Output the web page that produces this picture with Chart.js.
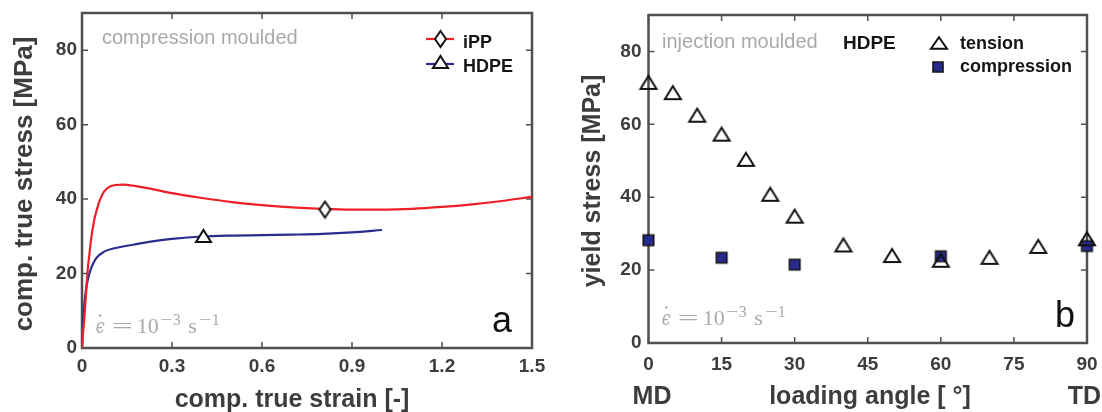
<!DOCTYPE html>
<html><head><meta charset="utf-8">
<script src="https://cdn.jsdelivr.net/npm/chart.js@4.4.1/dist/chart.umd.min.js"></script>
<style>
html,body{margin:0;padding:0;background:#fff;}
#wrap{position:relative;width:1102px;height:412px;overflow:hidden;background:#fff;}
#cA{position:absolute;left:0;top:0;}
#cB{position:absolute;left:560px;top:0;}
</style></head><body>
<div id="wrap"><canvas id="cA" width="560" height="412"></canvas><canvas id="cB" width="542" height="412"></canvas></div>
<script>
// ---------- data (panel a) ----------
const strainIPP = [0, 0.004, 0.008, 0.013, 0.019, 0.025, 0.03, 0.041, 0.05, 0.058, 0.074, 0.097, 0.135, 0.18, 0.24, 0.3, 0.4, 0.5, 0.6, 0.7, 0.8, 0.9, 1.0, 1.1, 1.2, 1.3, 1.4, 1.5];
const stressIPP = [0, 4.5, 8.3, 14, 21, 25.5, 29, 34.5, 37.3, 39.4, 42.1, 43.5, 43.9, 43.5, 42.6, 41.6, 40.3, 39.2, 38.4, 37.8, 37.4, 37.2, 37.2, 37.4, 37.9, 38.6, 39.5, 40.6];
const strainHDPE = [0, 0.002, 0.005, 0.008, 0.013, 0.019, 0.03, 0.047, 0.074, 0.108, 0.174, 0.24, 0.3, 0.4, 0.5, 0.6, 0.7, 0.8, 0.9, 1.0];
const stressHDPE = [0, 4.7, 8.5, 12, 15.5, 18.2, 21.4, 24.1, 25.9, 26.8, 27.8, 28.7, 29.3, 29.95, 30.2, 30.3, 30.45, 30.65, 31.05, 31.7];
const markerIPP = [0.81, 37.2];
const markerHDPE = [0.405, 30.1];
const strainTicks = [0, 0.3, 0.6, 0.9, 1.2, 1.5];
const stressTicks = [0, 20, 40, 60, 80];
// ---------- data (panel b) ----------
const angleTension = [0, 5, 10, 15, 20, 25, 30, 40, 50, 60, 70, 80, 90];
const yieldTension = [71.5, 68.7, 62.5, 57.3, 50.4, 40.8, 34.8, 26.9, 24.0, 22.7, 23.5, 26.5, 28.6];
const angleCompression = [0, 15, 30, 60, 90];
const yieldCompression = [28.2, 23.4, 21.5, 23.8, 26.6];
const angleTicks = [0, 15, 30, 45, 60, 75, 90];
const yieldTicks = [0, 20, 40, 60, 80];

// ---------- styles ----------
const SANS = '"Liberation Sans", Arial, Helvetica, sans-serif';
const SERIF = '"Liberation Serif", "DejaVu Serif", serif';
const FRAME = '#505050';
const TICKC = '#3d3d3d';
const GRAY = '#a9a9a9';
const RED = '#ee1f26';
const BLUE = '#2b2d8e';
const NAVY = '#262a8c';

function marker(shape, w, h, fill, stroke, lw) {
  const c = document.createElement('canvas');
  const pad = Math.ceil(lw) + 2;
  c.width = Math.round(w + 2 * pad); c.height = Math.round(h + 2 * pad);
  const g = c.getContext('2d');
  g.translate(c.width / 2, c.height / 2);
  g.beginPath();
  if (shape === 'diamond') { g.moveTo(0, -h / 2); g.lineTo(w / 2, 0); g.lineTo(0, h / 2); g.lineTo(-w / 2, 0); g.closePath(); }
  else if (shape === 'triangle') { g.moveTo(0, -h / 2); g.lineTo(w / 2, h / 2); g.lineTo(-w / 2, h / 2); g.closePath(); }
  else { g.rect(-w / 2, -h / 2, w, h); }
  if (fill) { g.fillStyle = fill; g.fill(); }
  g.lineWidth = lw; g.strokeStyle = stroke; g.lineJoin = 'miter'; g.stroke();
  return c;
}
const mDiamond = marker('diamond', 11, 16, '#fff', '#111', 2);
const mTriA = marker('triangle', 15, 12, '#fff', '#111', 2);
const mTriB = marker('triangle', 16, 13, null, '#111', 2);
const mSq = marker('square', 10.5, 10.5, NAVY, '#151515', 1.6);
const mTriLegB = marker('triangle', 16, 11.5, null, '#111', 2);
const mSqLeg = marker('square', 10, 10, NAVY, '#151515', 1.6);

function pts(xs, ys) { return xs.map((x, i) => ({ x: x, y: ys[i] })); }

function txt(ctx, s, x, y, font, color, align, rot) {
  ctx.save();
  ctx.font = font; ctx.fillStyle = color; ctx.textAlign = align || 'left'; ctx.textBaseline = 'alphabetic';
  ctx.translate(x, y);
  if (rot) ctx.rotate(rot);
  ctx.fillText(s, 0, 0);
  ctx.restore();
}
function drawImg(ctx, img, x, y) { ctx.drawImage(img, Math.round(x - img.width / 2), Math.round(y - img.height / 2)); }

// strain-rate label: ϵ̇ = 10^-3 s^-1 (math-style, drawn piece by piece)
function drawRate(ctx, x0, base) {
  ctx.save();
  ctx.fillStyle = GRAY; ctx.textAlign = 'left'; ctx.textBaseline = 'alphabetic';
  ctx.save(); ctx.translate(x0, base); ctx.scale(0.8, 1);
  ctx.font = 'italic 20px "DejaVu Serif", serif'; ctx.fillText('\u03F5', 0, 0); ctx.restore();
  ctx.beginPath(); ctx.arc(x0 + 4.5, base - 17.5, 1.3, 0, 2 * Math.PI); ctx.fill();
  ctx.save(); ctx.translate(x0 + 16, base); ctx.scale(1.7, 1);
  ctx.font = '22px ' + SERIF; ctx.fillText('=', 0, 0); ctx.restore();
  ctx.font = '22px ' + SERIF;
  ctx.fillText('10', x0 + 41, base);
  ctx.fillText('s', x0 + 92.5, base);
  ctx.font = '16px ' + SERIF;
  ctx.save(); ctx.translate(x0 + 64.5, base - 8); ctx.scale(1.35, 1); ctx.fillText('\u2212', 0, 0); ctx.restore();
  ctx.fillText('3', x0 + 77, base - 8);
  ctx.save(); ctx.translate(x0 + 103.5, base - 8); ctx.scale(1.35, 1); ctx.fillText('\u2212', 0, 0); ctx.restore();
  ctx.fillText('1', x0 + 116, base - 8);
  ctx.restore();
}

function framePlugin(xt, yt, texts) {
  return {
    id: 'frameAndText',
    beforeDatasetsDraw(chart) {
      const ctx = chart.ctx, a = chart.chartArea, x = chart.scales.x, y = chart.scales.y;
      ctx.save();
      ctx.strokeStyle = FRAME; ctx.lineWidth = 1.5;
      ctx.beginPath();
      xt.forEach(v => { const p = x.getPixelForValue(v); ctx.moveTo(p, a.bottom); ctx.lineTo(p, a.bottom - 6); ctx.moveTo(p, a.top); ctx.lineTo(p, a.top + 6); });
      yt.forEach(v => { const p = y.getPixelForValue(v); ctx.moveTo(a.left, p); ctx.lineTo(a.left + 6, p); ctx.moveTo(a.right, p); ctx.lineTo(a.right - 6, p); });
      ctx.stroke();
      ctx.lineWidth = 2.5;
      ctx.strokeRect(a.left, a.top, a.right - a.left, a.bottom - a.top);
      ctx.restore();
    },
    afterDraw(chart) { texts(chart.ctx, chart); }
  };
}

function axisCfg(min, max, tickVals, fmt, pad, fitFn) {
  return {
    type: 'linear', min: min, max: max,
    afterBuildTicks: s => { s.ticks = tickVals.map(v => ({ value: v })); },
    afterFit: s => { fitFn(s); s.paddingLeft = 0; s.paddingRight = 0; s.paddingTop = 0; s.paddingBottom = 0; },
    grid: { display: false, drawTicks: false },
    border: { display: false },
    ticks: { padding: pad, color: TICKC, font: { family: SANS, size: 19, weight: 'bold' }, callback: fmt, maxRotation: 0, autoSkip: false }
  };
}

// ---------- panel a ----------
new Chart(document.getElementById('cA'), {
  type: 'scatter',
  data: {
    datasets: [
      { data: [{ x: markerIPP[0], y: markerIPP[1] }], pointStyle: mDiamond, pointRadius: 8, clip: false },
      { data: [{ x: markerHDPE[0], y: markerHDPE[1] }], pointStyle: mTriA, pointRadius: 8, clip: false },
      { data: pts(strainIPP, stressIPP), showLine: true, borderColor: RED, borderWidth: 2.2, pointRadius: 0, cubicInterpolationMode: 'monotone' },
      { data: pts(strainHDPE, stressHDPE), showLine: true, borderColor: BLUE, borderWidth: 2.2, pointRadius: 0, cubicInterpolationMode: 'monotone' }
    ]
  },
  options: {
    responsive: false, animation: false, events: [], devicePixelRatio: 1,
    layout: { padding: { left: 0, right: 28, top: 13, bottom: 0 } },
    plugins: { legend: { display: false }, tooltip: { enabled: false } },
    scales: {
      x: axisCfg(0, 1.5, strainTicks, v => v === 0 ? '0' : v.toFixed(1), 7, s => { s.height = 64; }),
      y: axisCfg(0, 90, stressTicks, v => String(v), 5, s => { s.width = 82; })
    }
  },
  plugins: [framePlugin(strainTicks, stressTicks, (ctx, chart) => {
    txt(ctx, 'comp. true stress [MPa]', 31.5, 184, 'bold 26px ' + SANS, TICKC, 'center', -Math.PI / 2);
    txt(ctx, 'comp. true strain [-]', 292, 407, 'bold 25px ' + SANS, TICKC, 'center');
    txt(ctx, 'compression moulded', 102, 44, '20px ' + SANS, GRAY, 'left');
    // legend
    ctx.save(); ctx.lineWidth = 2.2;
    ctx.strokeStyle = RED; ctx.beginPath(); ctx.moveTo(426, 39); ctx.lineTo(454, 39); ctx.stroke();
    ctx.strokeStyle = BLUE; ctx.beginPath(); ctx.moveTo(426, 64); ctx.lineTo(454, 64); ctx.stroke();
    ctx.restore();
    drawImg(ctx, mDiamond, 440, 39);
    drawImg(ctx, mTriA, 440, 62);
    txt(ctx, 'iPP', 463, 48, 'bold 18px ' + SANS, '#151515', 'left');
    txt(ctx, 'HDPE', 463, 71.5, 'bold 18px ' + SANS, '#151515', 'left');
    drawRate(ctx, 95.7, 333);
    txt(ctx, 'a', 512, 332, '36px ' + SANS, '#111', 'right');
  })]
});

// ---------- panel b ----------
new Chart(document.getElementById('cB'), {
  type: 'scatter',
  data: {
    datasets: [
      { data: pts(angleTension, yieldTension), pointStyle: mTriB, pointRadius: 8, clip: false },
      { data: pts(angleCompression, yieldCompression), pointStyle: mSq, pointRadius: 6, clip: false }
    ]
  },
  options: {
    responsive: false, animation: false, events: [], devicePixelRatio: 1,
    layout: { padding: { left: 0, right: 15, top: 15, bottom: 0 } },
    plugins: { legend: { display: false }, tooltip: { enabled: false } },
    scales: {
      x: axisCfg(0, 90, angleTicks, v => String(v), 10, s => { s.height = 69; }),
      y: axisCfg(0, 90, yieldTicks, v => String(v), 7, s => { s.width = 88.5; })
    }
  },
  plugins: [framePlugin(angleTicks, yieldTicks, (ctx, chart) => {
    txt(ctx, 'yield stress [MPa]', 40, 181, 'bold 25px ' + SANS, TICKC, 'center', -Math.PI / 2);
    txt(ctx, 'loading angle [ \u00B0]', 310, 404, 'bold 25px ' + SANS, TICKC, 'center');
    txt(ctx, 'MD', 92, 404, 'bold 25px ' + SANS, TICKC, 'center');
    txt(ctx, 'TD', 524.5, 404, 'bold 25px ' + SANS, TICKC, 'center');
    txt(ctx, 'injection moulded', 102, 48, '20px ' + SANS, GRAY, 'left');
    txt(ctx, 'HDPE', 283, 48.5, 'bold 19px ' + SANS, '#151515', 'left');
    drawImg(ctx, mTriLegB, 379, 42.5);
    drawImg(ctx, mSqLeg, 378, 66.5);
    txt(ctx, 'tension', 400, 49, 'bold 18px ' + SANS, '#151515', 'left');
    txt(ctx, 'compression', 400, 72, 'bold 18px ' + SANS, '#151515', 'left');
    drawRate(ctx, 101.7, 325);
    txt(ctx, 'b', 515, 327, '36px ' + SANS, '#111', 'right');
  })]
});
</script>
</body></html>
